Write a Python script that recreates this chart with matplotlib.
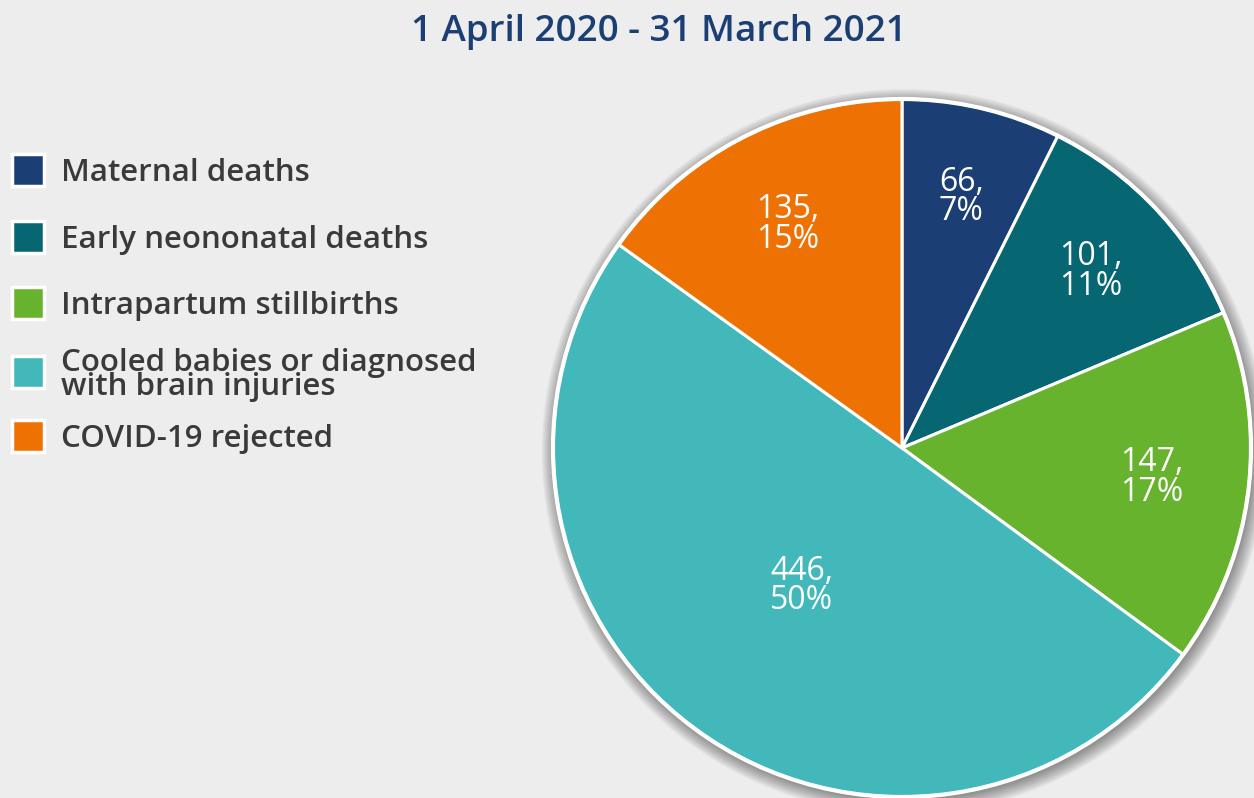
import matplotlib.pyplot as plt
from matplotlib.patches import Rectangle, Circle
import numpy as np

categories = ['Maternal deaths', 'Early neononatal deaths', 'Intrapartum stillbirths',
              'Cooled babies or diagnosed\nwith brain injuries', 'COVID-19 rejected']
counts = [66, 101, 147, 446, 135]
percents = [7, 11, 17, 50, 15]
colors = ['#1b3e74', '#066672', '#67b32e', '#42b8bb', '#ee7203']
label_dist = [0.74, 0.74, 0.72, 0.49, 0.72]
TITLE = '1 April 2020 - 31 March 2021'

BG = '#ededed'
W, H = 1254, 798
plt.rcParams['font.family'] = ['Open Sans', 'DejaVu Sans']

fig = plt.figure(figsize=(W / 100, H / 100), dpi=100, facecolor=BG)

# pie axes: centre ~(902, 448) px, radius ~349 px
cx, cy, r = 902, 448, 349
ax = fig.add_axes([(cx - r) / W, (H - cy - r) / H, 2 * r / W, 2 * r / H])
ax.set_facecolor(BG)

# soft drop shadow, a little below-right
for k in range(14):
    ax.add_patch(Circle((0.006, -0.01), 1.0 + 0.003 * k,
                        color='k', alpha=0.03, lw=0, clip_on=False, zorder=0))

wedges, _ = ax.pie(counts, colors=colors, startangle=90, counterclock=False, radius=1.0,
                   wedgeprops=dict(edgecolor='white', linewidth=2.2))
ax.set_xlim(-1, 1)
ax.set_ylim(-1, 1)
ax.set_aspect('equal')
ax.axis('off')
for w in wedges:
    w.set_clip_on(False)
    w.set_zorder(2)
ax.add_patch(Circle((0, 0), 1.0, fill=False, ec='white', lw=3, clip_on=False, zorder=3))

for w, n, p, d in zip(wedges, counts, percents, label_dist):
    mid = np.deg2rad((w.theta1 + w.theta2) / 2)
    ax.text(d * np.cos(mid), d * np.sin(mid), f'{n},\n{p}%', color='white',
            fontsize=23, ha='center', va='center', linespacing=0.85, zorder=4)

fig.text(659 / W, 1 - 32 / H, TITLE, color='#1b3e74', fontsize=26.5,
         fontweight='semibold', ha='center', va='center')

# legend
ys = [170, 237, 303, 372, 436]
for y, lab, c in zip(ys, categories, colors):
    fig.patches.append(Rectangle(((12 + 2) / W, 1 - (y + 16 + 2) / H), 32 / W, 32 / H,
                                 transform=fig.transFigure, fc='#c8c8c8', ec='none',
                                 zorder=1))
    fig.patches.append(Rectangle((12 / W, 1 - (y + 16) / H), 32 / W, 32 / H,
                                 transform=fig.transFigure, fc=c, ec='white', lw=2.5,
                                 zorder=2))
    fig.text(61 / W, 1 - (y + 3) / H, lab, color='#3a3a3a', fontsize=22.5,
             fontweight='semibold', ha='left', va='center', linespacing=0.78)

fig.savefig('out.png', dpi=100, facecolor=BG)
